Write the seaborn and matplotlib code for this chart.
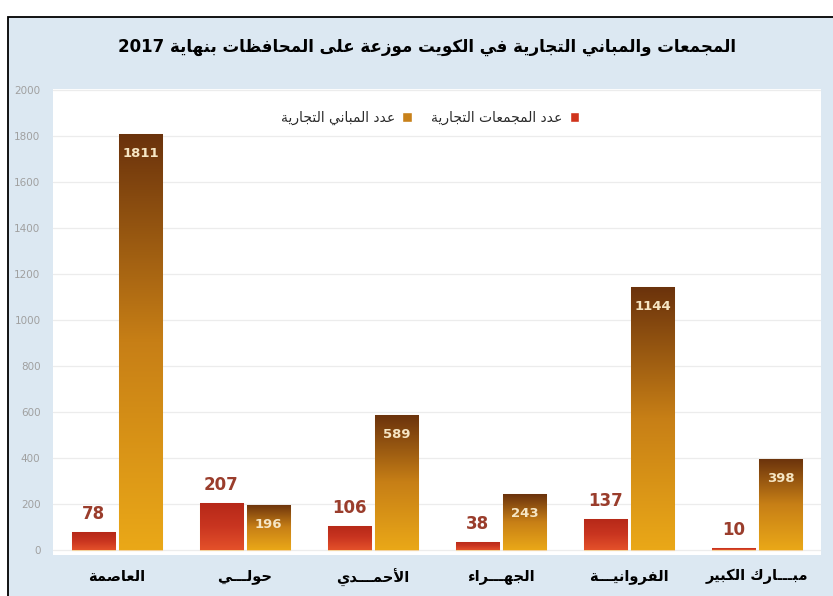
import re
import numpy as np
import pandas as pd
import matplotlib
matplotlib.use('Agg')
import matplotlib.pyplot as plt
import seaborn as sns
from matplotlib.colors import LinearSegmentedColormap
from matplotlib.patches import Rectangle

# -----------------------------------------------------------------------------
# data
# -----------------------------------------------------------------------------
title = 'المجمعات والمباني التجارية في الكويت موزعة على المحافظات بنهاية 2017'
governorates = ['العاصمة', 'حولـــي', 'الأحمـــدي', 'الجهـــراء', 'الفروانيـــة', 'مبـــارك الكبير']
series_names = ['عدد المجمعات التجارية', 'عدد المباني التجارية']
malls = [78, 207, 106, 38, 137, 10]
buildings = [1811, 196, 589, 243, 1144, 398]
y_ticks = [0, 200, 400, 600, 800, 1000, 1200, 1400, 1600, 1800, 2000]

# -----------------------------------------------------------------------------
# minimal Arabic shaping (matplotlib has no shaping / bidi of its own)
# -----------------------------------------------------------------------------
FORMS = {
    'ء': (0xFE80, 1), 'آ': (0xFE81, 2), 'أ': (0xFE83, 2), 'ا': (0xFE8D, 2),
    'ب': (0xFE8F, 4), 'ة': (0xFE93, 2), 'ت': (0xFE95, 4), 'ج': (0xFE9D, 4),
    'ح': (0xFEA1, 4), 'د': (0xFEA9, 2), 'ر': (0xFEAD, 2), 'ز': (0xFEAF, 2),
    'ص': (0xFEB9, 4), 'ظ': (0xFEC5, 4), 'ع': (0xFEC9, 4), 'ف': (0xFED1, 4),
    'ك': (0xFED9, 4), 'ل': (0xFEDD, 4), 'م': (0xFEE1, 4), 'ن': (0xFEE5, 4),
    'ه': (0xFEE9, 4), 'و': (0xFEED, 2), 'ى': (0xFEEF, 2), 'ي': (0xFEF1, 4),
}
LAM_ALEF = {'آ': 0xFEF5, 'أ': 0xFEF7, 'إ': 0xFEF9, 'ا': 0xFEFB}


def forms_of(c):
    if c == 'ـ':
        return ('ـ',) * 4
    if c in FORMS:
        start, n = FORMS[c]
        return tuple(chr(start + k) for k in range(n))
    return (c,)


def ar(text):
    units = []
    i = 0
    while i < len(text):
        c = text[i]
        if c == 'ل' and i + 1 < len(text) and text[i + 1] in LAM_ALEF:
            s = LAM_ALEF[text[i + 1]]
            units.append((chr(s), chr(s + 1)))
            i += 2
        else:
            units.append(forms_of(c))
            i += 1
    out = []
    for k, f in enumerate(units):
        join_prev = len(f) > 1 and k > 0 and len(units[k - 1]) == 4
        join_next = len(f) == 4 and k + 1 < len(units) and len(units[k + 1]) > 1
        if join_prev and join_next:
            out.append(f[3])
        elif join_next:
            out.append(f[2])
        elif join_prev:
            out.append(f[1])
        else:
            out.append(f[0])
    vis = ''.join(out)[::-1]
    return re.sub(r'[0-9]+', lambda m: m.group(0)[::-1], vis)


# -----------------------------------------------------------------------------
# figure
# -----------------------------------------------------------------------------
sns.set_style('white')
plt.rcParams['font.family'] = ['DejaVu Sans']

W, H = 833, 596
fig = plt.figure(figsize=(W / 100, H / 100), dpi=100, facecolor='white')

# light blue panel with black border (left / top visible)
fig.patches.append(Rectangle((8 / W, -0.02), 1.05, 1 - 17 / H + 0.02,
                             transform=fig.transFigure, facecolor='#dce8f2',
                             edgecolor='black', lw=1.3, zorder=-5))

ax = fig.add_axes([53 / W, 1 - 555 / H, (821 - 53) / W, (555 - 89) / H])
ax.set_facecolor('white')

gov_lbl = [ar(g) for g in governorates]
ser_lbl = [ar(s) for s in series_names]
df = pd.DataFrame({
    'gov': gov_lbl * 2,
    'value': malls + buildings,
    'series': [ser_lbl[0]] * len(malls) + [ser_lbl[1]] * len(buildings),
})

base_colors = ['#d63e1e', '#c27a14']
sns.barplot(data=df, x='gov', y='value', hue='series', hue_order=ser_lbl,
            palette=base_colors, saturation=1, width=0.74, gap=0.08,
            edgecolor='#f3d3a0', linewidth=0.8, legend=False, ax=ax)

# vertical gradients clipped to each bar
grads = [
    LinearSegmentedColormap.from_list('red', ['#e4512a', '#c93520', '#b52818']),
    LinearSegmentedColormap.from_list('gold', ['#eaa818', '#c77f16', '#6a320c']),
]
grad = np.linspace(0, 1, 256).reshape(-1, 1)
for cont, cmap in zip(ax.containers, grads):
    for bar in cont:
        x0, y0 = bar.get_xy()
        w, h = bar.get_width(), bar.get_height()
        im = ax.imshow(grad, extent=[x0, x0 + w, y0, y0 + h], origin='lower',
                       cmap=cmap, aspect='auto', zorder=bar.get_zorder() + 0.1)
        im.set_clip_path(bar)

# value labels: above the red bars, inside the top of the gold bars
for bar, v in zip(ax.containers[0], malls):
    ax.annotate(str(v), (bar.get_x() + bar.get_width() / 2, bar.get_height()),
                xytext=(0, 13), textcoords='offset points', ha='center', va='center',
                fontsize=12, fontweight='bold', color='#9a3d2c', zorder=5)
for bar, v in zip(ax.containers[1], buildings):
    ax.annotate(str(v), (bar.get_x() + bar.get_width() / 2, bar.get_height()),
                xytext=(0, -14), textcoords='offset points', ha='center', va='center',
                fontsize=9.5, fontweight='bold', color='#f6e6c4', zorder=5)

ax.set_xlim(-0.5, len(governorates) - 0.5)
ax.set_ylim(-20, 2005)
ax.set_yticks(y_ticks)
ax.yaxis.grid(True, color='#ececec', lw=0.9)
ax.xaxis.grid(False)
ax.set_axisbelow(True)
for s in ax.spines.values():
    s.set_visible(False)
ax.set_xlabel('')
ax.set_ylabel('')
ax.tick_params(axis='y', length=0, pad=9, labelsize=7.5, labelcolor='#a0a0a0')
ax.tick_params(axis='x', length=0, pad=10)
for t in ax.get_xticklabels():
    t.set_fontsize(10.5)
    t.set_fontweight('bold')
    t.set_color('black')

# legend, right-to-left: text then swatch
handles = [Rectangle((0, 0), 1, 1, facecolor=c) for c in ['#c8811a', '#d0341c']]
ax.legend(handles, [ser_lbl[1], ser_lbl[0]], loc='center',
          bbox_to_anchor=(0.491, 0.938), ncol=2, frameon=False, markerfirst=False,
          handlelength=0.7, handleheight=0.7, handletextpad=0.5,
          columnspacing=1.4, fontsize=10, labelcolor='#2a2a2a')

fig.text(427 / W, 1 - 47 / H, ar(title), ha='center', va='center',
         fontsize=12, fontweight='bold', color='black')

fig.savefig('out.png', dpi=100)
